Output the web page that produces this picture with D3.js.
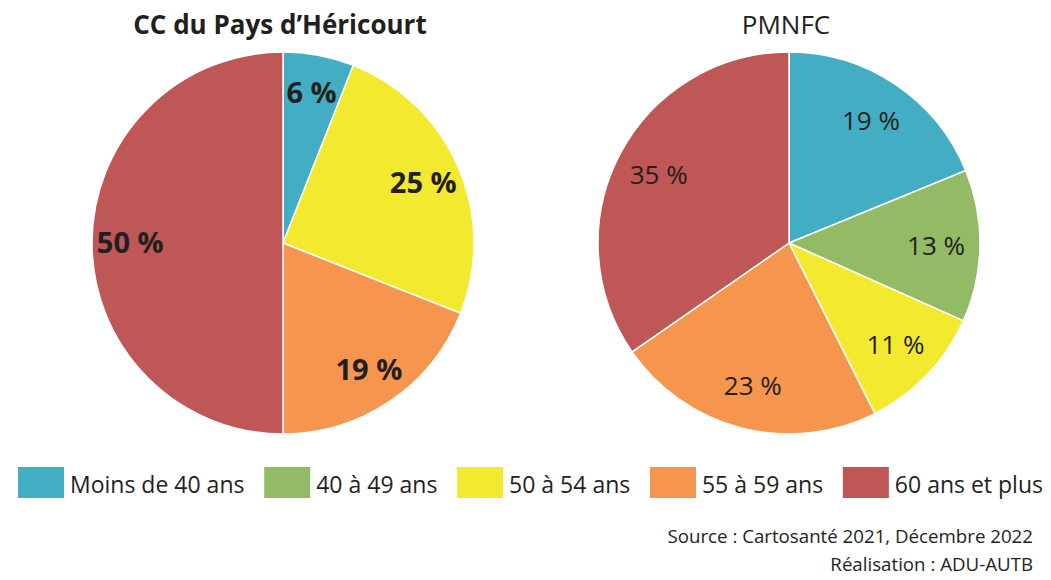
<!DOCTYPE html>
<html lang="fr">
<head>
<meta charset="utf-8">
<script src="https://d3js.org/d3.v7.min.js"></script>
<title>Répartition par âge</title>
<style>
  body { margin: 0; background: #fff; }
  text { font-family: "Open Sans", "Noto Sans", sans-serif; fill: #231f20; }
</style>
</head>
<body>
<div id="chart"></div>
<script>
// data
const categories = ["Moins de 40 ans", "40 à 49 ans", "50 à 54 ans", "55 à 59 ans", "60 ans et plus"];
const colors = ["#43adc4", "#93bb65", "#f3ea2f", "#f6964e", "#be5756"];
const titles = ["CC du Pays d’Héricourt", "PMNFC"];
const hericourt = [6, 0, 25, 19, 50];
const pmnfc = [19, 13, 11, 23, 35];
const sourceLines = ["Source : Cartosanté 2021, Décembre 2022", "Réalisation : ADU-AUTB"];

const width = 1051, height = 580;
const radius = 191;

const svg = d3.select("#chart").append("svg")
  .attr("width", width)
  .attr("height", height);

const color = d3.scaleOrdinal().domain(categories).range(colors);

const pie = d3.pie().sort(null).value(d => d.value);
const arc = d3.arc().innerRadius(0).outerRadius(radius);

const charts = [
  { title: titles[0], values: hericourt, cx: 283, bold: true, lr: 0.8 },
  { title: titles[1], values: pmnfc, cx: 789, bold: false, lr: 0.77 }
];

charts.forEach(c => {
  const rows = categories.map((k, i) => ({ key: k, value: c.values[i] }));
  const g = svg.append("g").attr("transform", `translate(${c.cx},243)`);
  const labelArc = d3.arc().innerRadius(radius * c.lr).outerRadius(radius * c.lr);

  svg.append("text")
    .attr("x", c.cx - 3)
    .attr("y", 34)
    .attr("text-anchor", "middle")
    .style("font-size", "26px")
    .style("font-weight", c.bold ? "bold" : "normal")
    .text(c.title);

  const arcs = pie(rows).filter(d => d.data.value > 0);

  g.selectAll("path")
    .data(arcs)
    .join("path")
    .attr("d", arc)
    .attr("fill", d => color(d.data.key))
    .attr("stroke", "#fff")
    .attr("stroke-width", 1.5);

  g.selectAll("text")
    .data(arcs)
    .join("text")
    .attr("transform", d => `translate(${labelArc.centroid(d)})`)
    .attr("text-anchor", "middle")
    .attr("dy", "0.36em")
    .style("font-size", c.bold ? "29px" : "26px")
    .style("font-weight", c.bold ? "bold" : "normal")
    .text(d => d.data.value + " %");
});

// legend
const legend = svg.append("g");
const items = legend.selectAll("g")
  .data(categories)
  .join("g");
items.append("rect")
  .attr("width", 46)
  .attr("height", 31)
  .attr("y", 467)
  .attr("fill", d => color(d));
items.append("text")
  .attr("x", 52)
  .attr("y", 493)
  .style("font-size", "23px")
  .text(d => d);

// spread legend items between left and right edge
const widths = items.nodes().map(n => 52 + n.querySelector("text").getComputedTextLength());
const left = 18, right = 1043;
const gap = (right - left - d3.sum(widths)) / (categories.length - 1);
let x = left;
items.attr("transform", (d, i) => {
  const t = `translate(${x},0)`;
  x += widths[i] + gap;
  return t;
});

// source
svg.append("g").selectAll("text")
  .data(sourceLines)
  .join("text")
  .attr("x", 1033)
  .attr("y", (d, i) => 543 + i * 28)
  .attr("text-anchor", "end")
  .style("font-size", "18.7px")
  .text(d => d);
</script>
</body>
</html>
